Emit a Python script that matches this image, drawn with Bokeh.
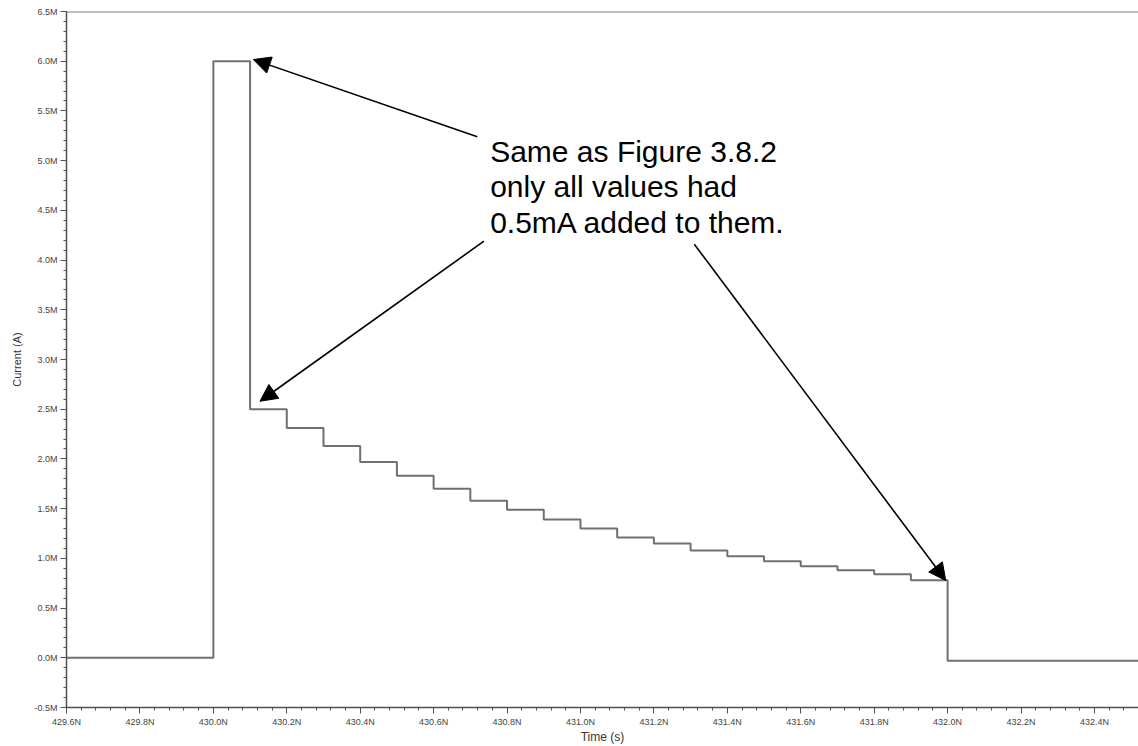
from bokeh.plotting import figure
from bokeh.models import (Range1d, SingleIntervalTicker, PrintfTickFormatter,
                          Arrow, NormalHead, Label, Span, ColumnDataSource)
from bokeh.embed import file_html
from bokeh.resources import INLINE

# Time (N units on the axis) and current (M units on the axis)
time_n = [429.6, 430.0, 430.1, 430.2, 430.3, 430.4, 430.5, 430.6, 430.7,
          430.8, 430.9, 431.0, 431.1, 431.2, 431.3, 431.4, 431.5, 431.6,
          431.7, 431.8, 431.9, 432.0, 432.6]
current_m = [0.0, 6.0, 2.5, 2.31, 2.13, 1.97, 1.83, 1.70, 1.58,
             1.49, 1.39, 1.30, 1.21, 1.15, 1.08, 1.02, 0.97, 0.92,
             0.88, 0.84, 0.78, -0.03, -0.03]

annotation_lines = ["Same as Figure 3.8.2", "only all values had", "0.5mA added to them."]

FONT = "Liberation Sans"

p = figure(width=1138, height=746, output_backend="svg", toolbar_location=None,
           x_range=Range1d(429.6, 432.52), y_range=Range1d(-0.5, 6.5),
           min_border_left=66, min_border_right=0, min_border_top=11,
           min_border_bottom=35)

p.outline_line_color = None
p.xgrid.visible = False
p.ygrid.visible = False
p.background_fill_color = "white"
p.border_fill_color = "white"

src = ColumnDataSource(dict(t=time_n, c=current_m))
p.step("t", "c", source=src, mode="after", line_color="#707070", line_width=2)

# top frame line at 6.5M
p.add_layout(Span(location=6.5, dimension="width", line_color="#808080", line_width=2))

# axes
for ax in (p.xaxis[0], p.yaxis[0]):
    ax.axis_line_color = "#505050"
    ax.axis_line_width = 1.5
    ax.major_tick_line_color = "#505050"
    ax.minor_tick_line_color = "#505050"
    ax.major_tick_in = 0
    ax.minor_tick_in = 0
    ax.major_tick_out = 6
    ax.minor_tick_out = 3
    ax.major_label_text_font = FONT
    ax.major_label_text_font_size = "9px"
    ax.major_label_text_color = "#444444"
    ax.axis_label_text_font = FONT
    ax.axis_label_text_font_style = "normal"
    ax.axis_label_text_color = "#333333"

p.xaxis.ticker = SingleIntervalTicker(interval=0.2, num_minor_ticks=5)
p.yaxis.ticker = SingleIntervalTicker(interval=0.5, num_minor_ticks=5)
p.xaxis.formatter = PrintfTickFormatter(format="%.1fN")
p.yaxis.formatter = PrintfTickFormatter(format="%.1fM")
p.xaxis.axis_label = "Time (s)"
p.yaxis.axis_label = "Current (A)"
p.xaxis.axis_label_text_font_size = "12px"
p.yaxis.axis_label_text_font_size = "11px"
p.xaxis.major_label_standoff = 3
p.xaxis.axis_label_standoff = 0
p.yaxis.major_label_standoff = 3
p.yaxis.axis_label_standoff = 8

# annotation text
for txt, yy in zip(annotation_lines, [5.09, 4.735, 4.375]):
    p.add_layout(Label(x=430.754, y=yy, text=txt, text_font=FONT,
                       text_font_size="30px", text_color="black",
                       text_baseline="alphabetic", text_align="left"))

# arrows
arrows = [
    (430.719, 5.24, 430.109, 6.017),
    (430.737, 4.19, 430.127, 2.58),
    (431.310, 4.16, 431.995, 0.777),
]
for xs, ys, xe, ye in arrows:
    p.add_layout(Arrow(end=NormalHead(size=17, fill_color="black", line_color="black"),
                       x_start=xs, y_start=ys, x_end=xe, y_end=ye,
                       line_color="black", line_width=1.6))

open("out.html", "w").write(file_html(p, INLINE))
